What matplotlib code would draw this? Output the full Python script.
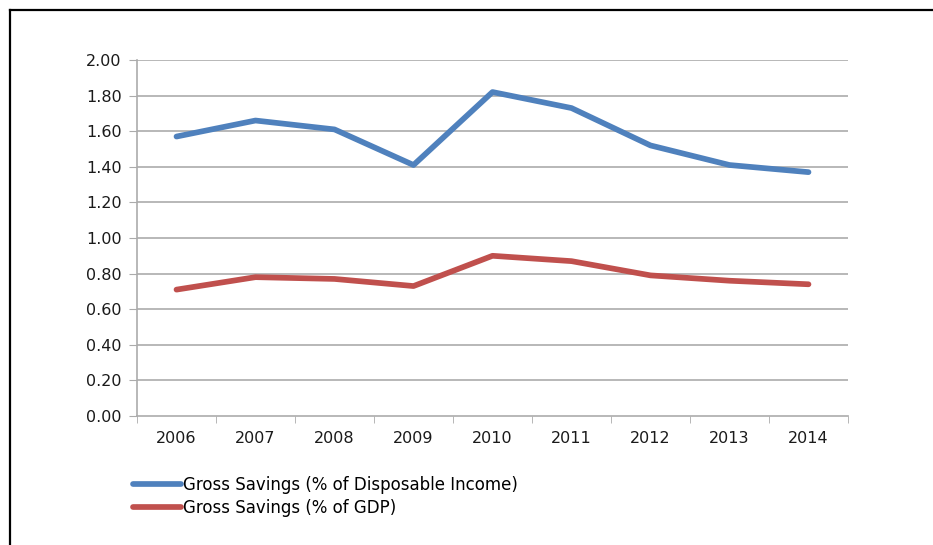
import matplotlib
matplotlib.use("Agg")
import matplotlib.pyplot as plt
from matplotlib.lines import Line2D

years = ["2006", "2007", "2008", "2009", "2010", "2011", "2012", "2013", "2014"]
disposable = [1.57, 1.66, 1.61, 1.41, 1.82, 1.73, 1.52, 1.41, 1.37]
gdp = [0.71, 0.78, 0.77, 0.73, 0.90, 0.87, 0.79, 0.76, 0.74]
yticks = [0.0, 0.2, 0.4, 0.6, 0.8, 1.0, 1.2, 1.4, 1.6, 1.8, 2.0]

BLUE = "#4f81bd"
RED = "#c0504d"
GRID = "#ababab"
INK = "#1a1a1a"

W, H = 933, 545
fig = plt.figure(figsize=(W / 100, H / 100), dpi=100)
ax = fig.add_axes([137 / W, 1 - 416 / H, (848 - 137) / W, (416 - 60) / H])

x = list(range(len(years)))
l1, = ax.plot(x, disposable, color=BLUE, lw=4.1, solid_capstyle="round",
              solid_joinstyle="round", label="Gross Savings (% of Disposable Income)")
l2, = ax.plot(x, gdp, color=RED, lw=4.1, solid_capstyle="round",
              solid_joinstyle="round", label="Gross Savings (% of GDP)")

ax.set_xlim(-0.5, len(years) - 0.5)
ax.set_ylim(0, 2.0)
ax.set_yticks(yticks)
ax.set_yticklabels(["%.2f" % v for v in yticks])
ax.set_xticks(x)
ax.set_xticklabels(years)
ax.set_xticks([i - 0.5 for i in range(len(years) + 1)], minor=True)

for v in yticks[1:]:
    ax.axhline(v, color=GRID, lw=1.2, zorder=0)

for s in ("top", "right"):
    ax.spines[s].set_visible(False)
for s in ("left", "bottom"):
    ax.spines[s].set_color(GRID)
    ax.spines[s].set_linewidth(1.2)

ax.tick_params(axis="y", length=6, color=GRID, labelsize=11.5, labelcolor=INK, pad=5)
ax.tick_params(axis="x", which="major", length=0, labelsize=11.5, labelcolor=INK, pad=11)
ax.tick_params(axis="x", which="minor", length=5, color=GRID)

# legend below the axes
fig.legend(handles=[l1, l2], loc="upper left", bbox_to_anchor=(133 / W, 1 - 476 / H),
           frameon=False, fontsize=12, handlelength=2.9, handletextpad=0.12,
           labelspacing=0.3, borderaxespad=0, borderpad=0)

# outer frame (cut at the right and bottom edges)
fig.add_artist(Line2D([9.5 / W, 9.5 / W], [0, 1 - 9.5 / H], color="black", lw=1.6,
                      transform=fig.transFigure))
fig.add_artist(Line2D([9.5 / W, 1], [1 - 9.5 / H, 1 - 9.5 / H], color="black", lw=1.6,
                      transform=fig.transFigure))

fig.savefig("out.png", dpi=100, facecolor="white")
